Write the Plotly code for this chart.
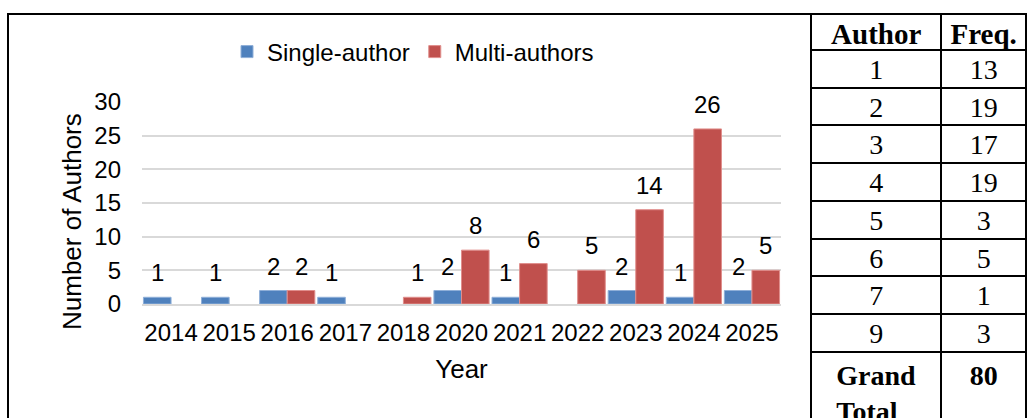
import plotly.graph_objects as go

# ---- data ----
years = ['2014', '2015', '2016', '2017', '2018', '2020', '2021', '2022', '2023', '2024', '2025']
single_author = [1, 1, 2, 1, None, 2, 1, None, 2, 1, 2]
multi_authors = [None, None, 2, None, 1, 8, 6, 5, 14, 26, 5]

table_header = ['Author', 'Freq.']
table_authors = ['1', '2', '3', '4', '5', '6', '7', '9']
table_freq = [13, 19, 17, 19, 3, 5, 1, 3]
grand_total = 80

# ---- style ----
W, H = 1027, 418
SANS = 'Liberation Sans, Arial, sans-serif'
SERIF = 'Liberation Serif, Palatino Linotype, serif'
BLUE = '#4F81BD'
RED = '#C0504D'
BARGAP = 0.05

x_dom = [142 / W, 781 / W]
y_dom = [(H - 304) / H, (H - 102) / H]

fig = go.Figure()
fig.add_trace(go.Bar(
    x=years, y=single_author, name='Single-author',
    marker=dict(color=BLUE, line=dict(color='#8FAFD8', width=1)),
))
fig.add_trace(go.Bar(
    x=years, y=multi_authors, name='Multi-authors',
    marker=dict(color=RED, line=dict(color='#E08E8C', width=1)),
))

# data labels above bars (category axis: annotation x is the category index)
plot_w = (x_dom[1] - x_dom[0]) * W
half_bar = plot_w / len(years) * (1 - BARGAP) / 4
annotations = []
for series, shift in ((single_author, -half_bar), (multi_authors, half_bar)):
    for i, v in enumerate(series):
        if v is None:
            continue
        annotations.append(dict(
            x=i, y=v, xref='x', yref='y', text=str(v), showarrow=False,
            xshift=shift, yshift=9, xanchor='center', yanchor='bottom',
            font=dict(family=SANS, size=24, color='black'),
        ))

# y-axis title
annotations.append(dict(
    x=72 / W, y=1 - 222 / H, xref='paper', yref='paper', text='Number of Authors',
    textangle=-90, showarrow=False, xanchor='center', yanchor='middle',
    font=dict(family=SANS, size=26, color='black'),
))

# frequency table
cells_author = table_authors + ['<b>Grand<br>Total</b>']
cells_freq = [str(v) for v in table_freq] + ['<b>%d</b>' % grand_total]
fig.add_trace(go.Table(
    domain=dict(x=[811 / W, 1], y=[0, 1 - 14 / H]),
    columnwidth=[131, 85],
    header=dict(
        values=table_header, height=36, align='center',
        fill_color='white', line=dict(color='black', width=2),
        font=dict(family=SERIF, size=29, color='black', weight='bold'),
    ),
    cells=dict(
        values=[cells_author, cells_freq], height=37.7, align='center',
        fill_color='white', line=dict(color='black', width=2),
        font=dict(family=SERIF, size=28, color='black'),
    ),
))

fig.update_layout(
    width=W, height=H,
    margin=dict(l=0, r=0, t=0, b=0),
    paper_bgcolor='white', plot_bgcolor='white',
    barmode='group', bargap=BARGAP, bargroupgap=0,
    showlegend=True,
    legend=dict(
        orientation='h', x=227 / W, y=1 - 52 / H, xanchor='left', yanchor='middle',
        font=dict(family=SANS, size=24, color='black'), bgcolor='rgba(0,0,0,0)',
    ),
    xaxis=dict(
        domain=x_dom, type='category', showgrid=False, showline=True,
        linecolor='#D9D9D9', linewidth=2, ticks='', automargin=False,
        tickfont=dict(family=SANS, size=24, color='black'), ticklabelstandoff=6,
        title=dict(text='Year', font=dict(family=SANS, size=26, color='black'), standoff=15),
    ),
    yaxis=dict(
        domain=y_dom, range=[0, 30], dtick=5, showgrid=True, gridcolor='#D9D9D9',
        gridwidth=2, zeroline=False, showline=False, ticks='', automargin=False,
        tickfont=dict(family=SANS, size=24, color='black'), ticklabelstandoff=20,
    ),
    annotations=annotations,
    shapes=[dict(
        type='rect', xref='paper', yref='paper',
        x0=8 / W, x1=811 / W, y0=-0.1, y1=1 - 14 / H,
        line=dict(color='black', width=2), fillcolor='rgba(0,0,0,0)', layer='below',
    )],
)

fig.write_html('out.html')
